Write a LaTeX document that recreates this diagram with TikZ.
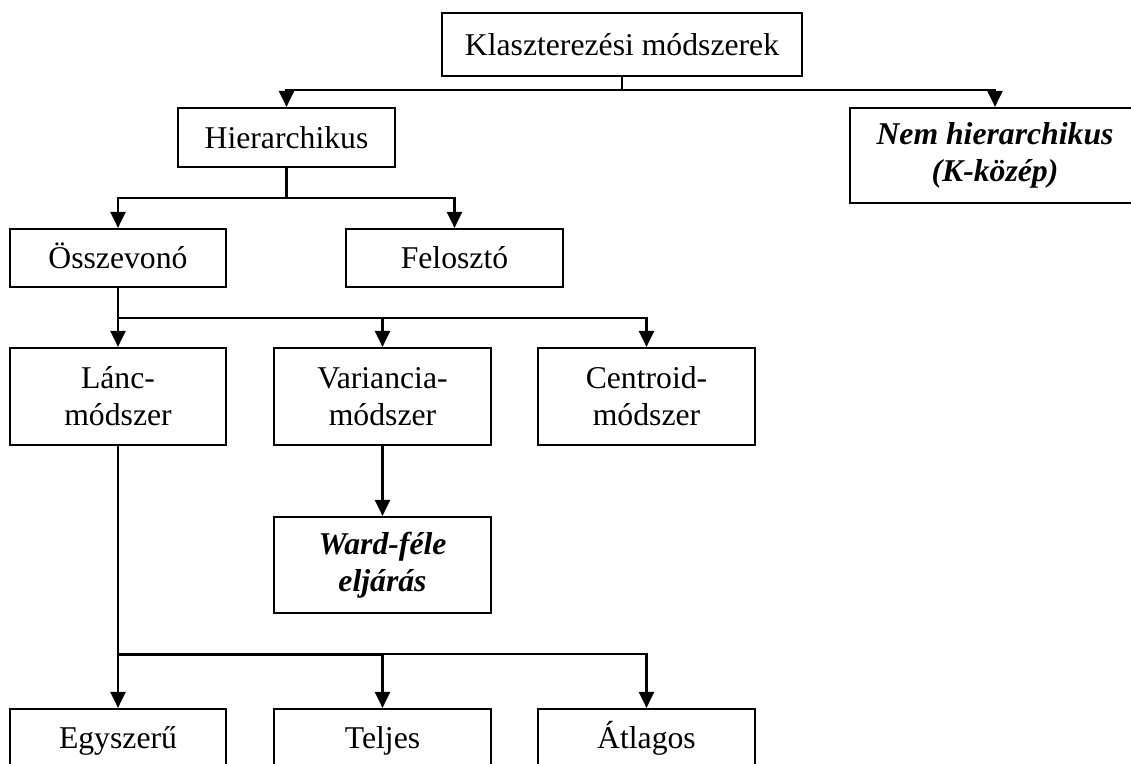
\documentclass[tikz,border=0pt]{standalone}
\usepackage{fontspec}
\setmainfont{Liberation Serif}
\usetikzlibrary{arrows.meta}
\begin{document}
\begin{tikzpicture}[x=1pt,y=-1pt,
  box/.style={draw, line width=2.2pt, rectangle, align=center, inner sep=0pt,
    font=\fontsize{31.7}{37}\selectfont},
  one/.style={text height=28pt, text depth=7pt},
  bi/.style={font=\fontsize{31.7}{37}\selectfont\bfseries\itshape},
  conn/.style={line width=2.2pt},
  arr/.style={conn, -{Triangle[width=15pt,length=16pt]}}]
\useasboundingbox (0,0) rectangle (1131,763);
\clip (0,0) rectangle (1131,763);
\fill[white] (0,0) rectangle (1131,763);

\node[box, one, minimum width=360pt, minimum height=63pt] (top) at (622,44.5) {Klaszterezési módszerek};
\node[box, one, minimum width=217pt, minimum height=59pt] (hier) at (286.5,137.5) {Hierarchikus};
\node[box, bi, minimum width=290pt, minimum height=95pt] (nem) at (995,155.5) {Nem hierarchikus\\(K-közép)};
\node[box, one, minimum width=216pt, minimum height=58pt] (ossz) at (118,258) {Összevonó};
\node[box, one, minimum width=217pt, minimum height=58pt] (felo) at (454.5,258) {Felosztó};
\node[box, minimum width=216pt, minimum height=97pt] (lanc) at (118,396.5) {Lánc-\\módszer};
\node[box, minimum width=217pt, minimum height=97pt] (vari) at (382.5,396.5) {Variancia-\\módszer};
\node[box, minimum width=217pt, minimum height=97pt] (cent) at (646.5,396.5) {Centroid-\\módszer};
\node[box, bi, minimum width=217pt, minimum height=96pt] (ward) at (382.5,565) {Ward-féle\\eljárás};
\node[box, one, minimum width=216pt, minimum height=58pt] (egy) at (118,738) {Egyszerű};
\node[box, one, minimum width=217pt, minimum height=58pt] (telj) at (382.5,738) {Teljes};
\node[box, one, minimum width=217pt, minimum height=58pt] (atl) at (646.5,738) {Átlagos};

\draw[conn] (top.south) -- ++(0,13) coordinate (j1);
\draw[arr] (j1) -| (hier.north);
\draw[arr] (j1) -| (nem.north);

\draw[conn] (hier.south) -- ++(0,30) coordinate (j2);
\draw[arr] (j2) -| (ossz.north);
\draw[arr] (j2) -| (felo.north);

\draw[conn] (ossz.south) -- ++(0,30) coordinate (j3);
\draw[arr] (j3) -- (lanc.north);
\draw[arr] (j3) -| (vari.north);
\draw[arr] (j3) -| (cent.north);

\draw[arr] (vari.south) -- (ward.north);

\draw[conn] (lanc.south) -- ++(0,208) coordinate (j4);
\draw[arr] (j4) -- (egy.north);
\draw[line width=3pt] (j4) -- (telj.north |- j4);
\draw[arr] (j4) -| (telj.north);
\draw[arr] (j4) -| (atl.north);
\end{tikzpicture}
\end{document}
